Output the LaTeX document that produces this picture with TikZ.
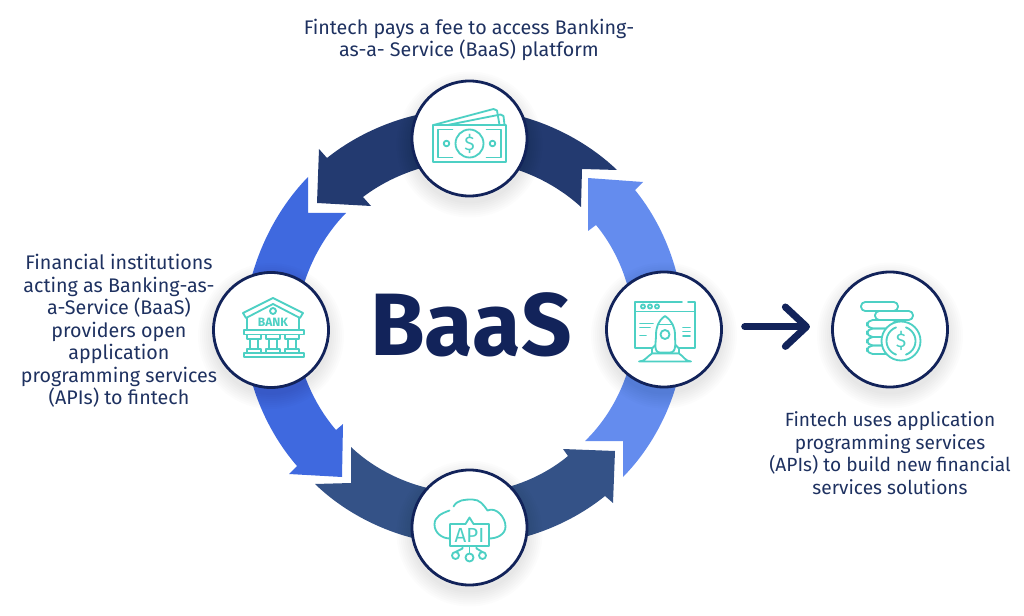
\documentclass[tikz,border=0pt]{standalone}
\usepackage{fontspec}
\setmainfont{Fira Sans}
\usetikzlibrary{arrows.meta}
\definecolor{navy}{HTML}{12235A}
\definecolor{textnavy}{HTML}{1E3160}
\definecolor{topband}{HTML}{233A70}
\definecolor{leftband}{HTML}{3F69DF}
\definecolor{lowband}{HTML}{345287}
\definecolor{rightband}{HTML}{648CEE}
\definecolor{iconteal}{HTML}{4DD0C4}
\def\hubsize{2.875cm}

\begin{document}
\begin{tikzpicture}[x=0.025cm, y=-0.025cm]
        \tikzstyle{hub}      = [circle, minimum size=\hubsize, inner sep=0pt, draw=navy, line width=2pt, fill=white]
        \tikzstyle{caption}  = [align=center, text=textnavy, font=\fontsize{14}{16}\selectfont]
        \tikzstyle{iconline} = [draw=iconteal, line width=1.3pt, line join=round, line cap=round]
        \tikzstyle{icontext} = [inner sep=0pt, text=iconteal]
        \tikzstyle{band}     = [looseness=0.85]
        \useasboundingbox (0,0) rectangle (1024,616);

        % ring
        \fill [band, topband] (448,110) to[bend right=17] (327,158) -- (319,149) -- (317,203) -- (371,206) -- (363,197) to[bend left=16] (453,162) -- cycle;
        \fill [band, topband] (617,170) to[bend right=19] (487,110) -- (483,162) to[bend left=18] (581,207) -- (582,169) -- cycle;
        \fill [band, leftband] (308,177) to[bend right=21] (244,325) -- (296,327) to[bend left=21] (346,213) -- (308,213) -- cycle;
        \fill [band, leftband] (244,341) to[bend right=18] (297,466) -- (289,474) -- (342,477) -- (343,424) -- (336,430) to[bend left=17] (296,339) -- cycle;
        \fill [band, lowband] (315,484) to[bend right=20] (449,544) -- (454,492) to[bend left=20] (351,447) -- (351,483) -- cycle;
        \fill [band, lowband] (486,544) to[bend right=17] (605,496) -- (613,503) -- (615,451) -- (563,449) -- (568,456) to[bend left=17] (482,492) -- cycle;
        \fill [band, rightband] (623,477) to[bend right=19] (683,352) -- (633,347) to[bend left=19] (585,441) -- (623,441) -- cycle;
        \fill [band, rightband] (683,314) to[bend right=18] (635,190) -- (643,182) -- (588,178) -- (588,231) -- (596,225) to[bend left=18] (633,318) -- cycle;

        \foreach \name/\x/\y in {money/469.5/138.5, bank/271/330, api/469.5/527.5, rocket/664/329.5, coins/890/329.5}
        {
                \foreach \r in {1,...,8}
                        \fill [black, opacity=0.012] (\x, \y + 6) circle ({57 + 2 * \r});
                \node [hub](\name) at (\x, \y) {};
        }

        \node [text=navy, font=\fontsize{63}{63}\selectfont\bfseries](title) at (471, 325) {BaaS};
        \node [caption](toptext) at (469, 40) {Fintech pays a fee to access Banking-\\as-a- Service (BaaS) platform};
        \node [caption](lefttext) at (119, 331) {Financial institutions\\acting as Banking-as-\\a-Service (BaaS)\\providers open\\application\\programming services\\(APIs) to fintech};
        \node [caption, font=\fontsize{13.6}{16}\selectfont](righttext) at (890, 453) {Fintech uses application\\programming services\\(APIs) to build new financial\\services solutions};

        \draw [navy, line width=5pt, line cap=round, -{Straight Barb[length=15pt, width=28pt, round, line width=5pt]}, shorten <=15.5pt, shorten >=15pt]
                ([yshift=0.07cm]rocket.east) -- ([yshift=0.07cm]coins.west);

        % money icon
        \begin{scope}[shift={(money.center)}]
                \draw [iconline] (-36.5,-13.5) rectangle (36.5,23.5);
                \draw [iconline] (-36,-13.5) -- (24,-29.5) -- (27.5,-28) -- (30,-13.5);
                \draw [iconline] (-22,-13.5) -- (31,-24) -- (34,-22.5) -- (35,-13.5);
                \draw [iconline] (-17,-9) -- (-31.5,-9) -- (-31.5,19) -- (-17,19);
                \draw [iconline] (17,-9) -- (31.5,-9) -- (31.5,19) -- (17,19);
                \draw [iconline] (0,5) circle (14);
                \draw [iconline] (-23,5) circle (2.8);
                \draw [iconline] (23,5) circle (2.8);
                \node [icontext, font=\fontsize{14}{14}\selectfont](moneysign) at (0,5) {\$};
        \end{scope}

        % bank icon
        \begin{scope}[shift={(bank.center)}]
                \draw [iconline] (-28,-17) -- (2,-32) -- (32,-17) -- (29,-12) -- (2,-26) -- (-25,-12) -- cycle;
                \draw [iconline] (-24,-12) -- (-24,0);
                \draw [iconline] (28,-12) -- (28,0);
                \draw [iconline] (-27,0) rectangle (33,4.5);
                \draw [iconline] (-27,23) rectangle (33,27);
                \foreach \i in {-17, 2, 21}
                {
                        \draw [iconline] (\i - 7, 4.5) rectangle (\i + 7, 9);
                        \draw [iconline] (\i - 4, 9) -- (\i - 4, 19);
                        \draw [iconline] (\i + 4, 9) -- (\i + 4, 19);
                        \draw [iconline] (\i - 7, 19) rectangle (\i + 7, 23);
                }
                \draw [iconline] (2,-19) circle (3);
                \node [icontext, font=\fontsize{8.6}{9}\selectfont\bfseries](banksign) at (2,-8) {BANK};
        \end{scope}

        % cloud icon
        \begin{scope}[shift={(api.center)}]
                \draw [iconline] (-19.5,11) to[out=180, in=270] (-35,-3) to[out=90, in=200] (-20,-17);
                \draw [iconline] (-16,-21) to[out=60, in=180] (3,-28) to[out=0, in=125] (18,-17) to[out=25, in=90] (36,-1) to[out=270, in=0] (19.5,11);
                \draw [iconline] (-19.5,-3.5) -- (-4,-3.5) -- (0,-10) -- (4,-3.5) -- (19.5,-3.5) -- (19.5,18.5) -- (-19.5,18.5) -- cycle;
                \node [icontext, font=\fontsize{14.5}{14.5}\selectfont](apisign) at (0,7.5) {API};
                \draw [iconline] (0,18.5) -- (0,26);
                \draw [iconline] (-7,18.5) -- (-7,21) -- (-14,24.5);
                \draw [iconline] (7,18.5) -- (7,21) -- (13,24.5);
                \draw [iconline] (0,30) circle (4);
                \draw [iconline] (-14,28) circle (3.5);
                \draw [iconline] (13,28) circle (3.5);
        \end{scope}

        % rocket icon
        \begin{scope}[shift={(rocket.center)}]
                \draw [iconline] (18,-27.5) -- (-29,-27.5) -- (-29,18.5) -- (31,18.5) -- (31,-27.5) -- (24,-27.5);
                \draw [iconline] (-29,-18) -- (31,-18);
                \foreach \i in {-21, -14, -7}
                        \draw [iconline] (\i, -23) circle (2);
                \draw [iconline] (-24,-6) -- (-11,-6);
                \draw [iconline] (-24,-2) -- (-14,-2);
                \draw [iconline] (-24,6) -- (-18,6);
                \foreach \y in {-2, 2, 6.5}
                        \draw [iconline] (19,\y) -- (26,\y);
                \draw [iconline, fill=white] (-7,14) -- (-12,19) -- (-12,24) -- (15,24) -- (15,19) -- (10,14) -- cycle;
                \draw [iconline, fill=white] (1,-13.5) to[out=215, in=90] (-8,6) to[out=270, in=180] (-4,23) -- (6,23) to[out=0, in=270] (11,6) to[out=90, in=-35] (1,-13.5);
                \draw [iconline] (-6,-5) -- (8,-5);
                \draw [iconline] (1,5) circle (4.5);
                \draw [iconline, fill=white] (-25,32) to[out=0, in=210] (-12,24) -- (15,24) to[out=-30, in=180] (27,32) -- cycle;
        \end{scope}

        % coins icon
        \begin{scope}[shift={(coins.center)}]
                \foreach \y in {16, 7.5, -1, -9.5}
                        \draw [iconline, rounded corners=4pt] (-23,\y) rectangle (8,\y + 8.5);
                \draw [iconline, rounded corners=3pt, fill=white] (-15,-18.5) rectangle (23,-9.5);
                \draw [iconline, rounded corners=3pt, fill=white] (-29,-27.5) rectangle (8,-18.5);
                \draw [iconline, fill=white] (11,11.5) circle (19.5);
                \draw [iconline] (11,11.5) ++(110:14.5) arc[start angle=110, end angle=250, radius=14.5];
                \draw [iconline] (11,11.5) ++(70:14.5) arc[start angle=70, end angle=-70, radius=14.5];
                \node [icontext, font=\fontsize{14}{14}\selectfont](coinsign) at (11,11.5) {\$};
        \end{scope}
\end{tikzpicture}
\end{document}
